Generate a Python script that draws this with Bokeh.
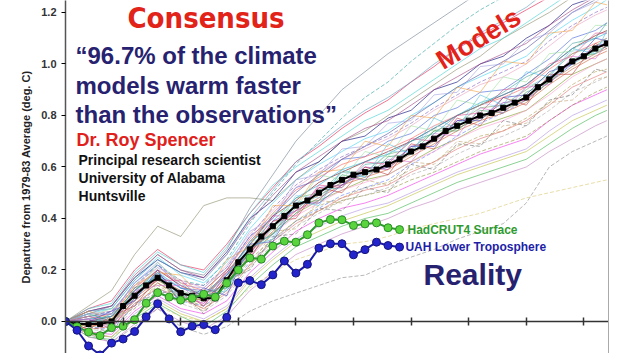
from bokeh.plotting import figure
from bokeh.models import Range1d, LinearAxis, FixedTicker, Label, NumeralTickFormatter
from bokeh.embed import file_html
from bokeh.resources import INLINE

# ---------------- data ----------------
years = list(range(1981, 2029))
obs_years = list(range(1981, 2011))
model_years = list(range(1981, 2028, 2)) + [2028]
x_ticks = list(range(1981, 2029, 5))
y_ticks = [0.0, 0.2, 0.4, 0.6, 0.8, 1.0, 1.2]

model_mean = [0.00, -0.01, -0.01, -0.01, 0.00, 0.06, 0.10, 0.14, 0.17, 0.14,
              0.11, 0.10, 0.09, 0.09, 0.16, 0.23, 0.28, 0.33, 0.37, 0.41,
              0.45, 0.47, 0.50, 0.53, 0.55, 0.57, 0.58, 0.59, 0.61, 0.63,
              0.66, 0.68, 0.71, 0.74, 0.76, 0.78, 0.80, 0.81, 0.83, 0.85,
              0.87, 0.91, 0.94, 0.98, 1.01, 1.03, 1.06, 1.08]

hadcrut4 = [0.000, -0.020, -0.041, -0.055, -0.024, -0.018, 0.007, 0.071, 0.112, 0.095,
            0.083, 0.090, 0.106, 0.095, 0.149, 0.200, 0.247, 0.242, 0.293, 0.312,
            0.308, 0.337, 0.383, 0.396, 0.395, 0.373, 0.379, 0.383, 0.364, 0.357]

uah = [0.000, -0.034, -0.095, -0.130, -0.084, -0.068, -0.039, 0.018, 0.069, 0.010,
       -0.040, -0.018, -0.012, -0.032, 0.016, 0.150, 0.159, 0.143, 0.181, 0.235,
       0.188, 0.222, 0.285, 0.302, 0.302, 0.259, 0.279, 0.308, 0.295, 0.289]

m01 = [0, .05, .08, .20, .28, .22, .20, .30, .42, .52, .62, .68, .75, .81, .86, .93, .99, 1.06, 1.11, 1.16, 1.21, 1.26, 1.31, 1.36, 1.38]
m02 = [0, -.06, -.07, .01, .07, .02, -.02, .04, .14, .22, .29, .33, .37, .40, .42, .46, .50, .54, .57, .60, .63, .69, .75, .80, .82]
m03 = [0, .02, .03, .15, .22, .13, .12, .20, .33, .40, .52, .55, .63, .64, .70, .73, .80, .83, .89, .90, .96, 1.02, 1.10, 1.13, 1.16]
m04 = [0, -.03, -.02, .06, .14, .09, .05, .12, .22, .32, .39, .45, .48, .52, .54, .59, .62, .68, .72, .74, .79, .85, .92, .97, .98]
m05 = [0, .01, -.03, .09, .19, .10, .07, .18, .26, .39, .43, .52, .53, .60, .59, .68, .70, .78, .79, .85, .86, .95, 1.00, 1.07, 1.08]
m06 = [0, .03, .05, .16, .25, .18, .15, .23, .36, .46, .55, .61, .66, .71, .74, .80, .85, .91, .95, .99, 1.03, 1.11, 1.17, 1.22, 1.25]
m07 = [0, -.04, -.05, .04, .10, .05, .03, .08, .19, .27, .35, .40, .44, .46, .49, .53, .57, .61, .65, .68, .71, .78, .84, .88, .90]
m08 = [0, .06, .12, .26, .37, .33, .45, .48, .48, .47, .55, .62, .70, .74, .80, .86, .92, .98, 1.03, 1.10, 1.15, 1.20, 1.26, 1.30, 1.32]
m09 = [0, .02, .04, .14, .22, .16, .14, .24, .38, .50, .61, .70, .79, .87, .93, 1.01, 1.08, 1.15, 1.21, 1.26, 1.31, 1.37, 1.42, 1.46, 1.48]
m10 = [0, -.05, -.08, -.02, .05, -.02, -.05, -.02, .04, .08, .11, .14, .17, .18, .22, .25, .28, .32, .35, .38, .46, .60, .66, .70, .72]
m11 = [0, -.04, -.06, .00, .06, .02, .00, .05, .13, .19, .24, .27, .30, .31, .33, .36, .38, .40, .42, .45, .48, .50, .52, .54, .55]
m12 = [0, .00, .02, .12, .20, .14, .10, .19, .30, .41, .47, .54, .58, .62, .66, .70, .75, .80, .84, .88, .92, .99, 1.06, 1.11, 1.13]
m13 = [0, -.02, -.01, .08, .15, .10, .08, .14, .26, .34, .42, .47, .51, .55, .57, .62, .67, .71, .76, .79, .82, .89, .96, 1.00, 1.02]
m14 = [0, .04, .06, .17, .24, .19, .17, .27, .40, .47, .58, .62, .70, .72, .79, .82, .90, .93, 1.00, 1.03, 1.10, 1.15, 1.23, 1.26, 1.29]
m15 = [0, -.03, -.04, .05, .12, .07, .04, .10, .21, .30, .37, .42, .47, .49, .52, .57, .60, .65, .69, .72, .76, .82, .89, .93, .95]
m16 = [0, .03, .04, .14, .21, .16, .13, .22, .34, .43, .52, .58, .63, .67, .71, .76, .82, .87, .92, .95, 1.00, 1.07, 1.14, 1.19, 1.21]
m17 = [0, -.05, -.06, .03, .09, .04, .01, .06, .17, .25, .32, .37, .41, .44, .46, .50, .54, .58, .61, .64, .67, .74, .80, .84, .86]
m18 = [0, -.01, .01, .10, .16, .12, .09, .15, .27, .36, .44, .49, .54, .57, .61, .66, .71, .75, .79, .83, .87, .93, 1.00, 1.05, 1.07]
m19 = [0, .01, .03, .13, .20, .15, .12, .20, .32, .42, .51, .56, .61, .64, .67, .71, .76, .80, .84, .87, .91, .98, 1.04, 1.08, 1.10]
m20 = [0, -.02, -.03, .06, .13, .08, .06, .12, .23, .31, .39, .44, .49, .52, .55, .61, .66, .72, .77, .81, .86, .93, 1.00, 1.06, 1.09]
m21 = [0, .05, .07, .19, .27, .22, .19, .29, .42, .53, .60, .66, .72, .78, .82, .88, .94, 1.00, 1.06, 1.10, 1.16, 1.22, 1.28, 1.32, 1.34]
m22 = [0, -.06, -.08, -.01, .05, .00, -.03, .02, .12, .19, .26, .30, .34, .37, .40, .44, .47, .51, .54, .57, .60, .66, .71, .76, .78]
m23 = [0, .02, -.01, .12, .18, .09, .10, .17, .31, .37, .48, .50, .58, .58, .65, .67, .74, .77, .83, .84, .90, .96, 1.04, 1.07, 1.10]
m24 = [0, -.02, .00, .09, .16, .11, .08, .16, .27, .35, .43, .48, .53, .56, .59, .64, .69, .74, .78, .81, .85, .92, .98, 1.03, 1.05]
m25 = [0, .00, .02, .11, .18, .13, .10, .18, .31, .41, .50, .57, .63, .68, .73, .79, .85, .91, .96, 1.01, 1.06, 1.13, 1.20, 1.25, 1.27]
m26 = [0, .00, -.01, .08, .15, .09, .06, .13, .24, .32, .39, .43, .47, .49, .51, .55, .58, .62, .66, .69, .72, .78, .84, .89, .91]
m27 = [0, .03, .06, .17, .26, .20, .18, .28, .44, .57, .70, .80, .90, .97, 1.04, 1.10, 1.16, 1.22, 1.28, 1.33, 1.38, 1.43, 1.48, 1.52, 1.54]
m28 = [0, -.01, -.02, .08, .15, .10, .07, .14, .25, .34, .41, .46, .51, .54, .57, .62, .66, .71, .75, .78, .82, .88, .95, 1.00, 1.02]
m29 = [0, .01, .02, .12, .19, .13, .11, .18, .30, .39, .48, .53, .59, .62, .65, .70, .75, .80, .85, .88, .92, .99, 1.06, 1.10, 1.12]
m30 = [0, .04, .06, .18, .26, .20, .17, .26, .39, .49, .58, .64, .70, .75, .78, .84, .90, .95, 1.00, 1.04, 1.08, 1.15, 1.21, 1.26, 1.28]
m31 = [0, -.05, -.06, .02, .08, .03, .00, .05, .16, .24, .31, .35, .39, .42, .45, .49, .53, .57, .60, .63, .66, .72, .78, .82, .84]
m32 = [0, .03, .00, .13, .17, .08, .11, .14, .29, .34, .46, .47, .57, .55, .64, .65, .74, .74, .82, .81, .89, .93, 1.02, 1.04, 1.07]
m33 = [0, .02, .04, .13, .22, .15, .14, .21, .33, .44, .53, .59, .64, .68, .72, .77, .83, .88, .93, .97, 1.01, 1.09, 1.15, 1.20, 1.22]
m34 = [0, -.03, -.02, .07, .13, .09, .05, .11, .22, .31, .38, .43, .48, .51, .53, .58, .62, .67, .71, .74, .78, .84, .91, .95, .97]
m35 = [0, .04, .05, .16, .24, .19, .16, .26, .40, .51, .62, .69, .76, .82, .87, .93, 1.00, 1.06, 1.12, 1.17, 1.22, 1.29, 1.35, 1.39, 1.41]
m36 = [0, .00, -.01, .10, .17, .11, .09, .15, .27, .37, .45, .49, .54, .57, .60, .65, .70, .75, .79, .82, .86, .93, .99, 1.04, 1.06]
m37 = [0, .03, -.02, .11, .21, .09, .12, .13, .31, .33, .49, .48, .58, .56, .66, .66, .76, .75, .85, .83, .91, .95, 1.05, 1.06, 1.10]
m38 = [0, -.03, .02, .06, .17, .12, .06, .17, .24, .39, .40, .52, .50, .60, .57, .69, .67, .79, .76, .87, .84, .96, .96, 1.08, 1.06]
m39 = [0, .02, .05, .09, .23, .15, .08, .20, .27, .42, .44, .57, .55, .66, .64, .76, .74, .86, .84, .95, .93, 1.04, 1.05, 1.15, 1.15]
m40 = [0, -.02, -.04, .07, .11, .12, .03, .16, .20, .33, .34, .44, .43, .52, .50, .61, .59, .69, .68, .78, .76, .86, .88, .98, .97]
m41 = [0, .04, .01, .14, .19, .18, .09, .24, .29, .45, .45, .58, .59, .70, .68, .80, .79, .91, .89, 1.01, 1.00, 1.12, 1.13, 1.24, 1.23]
m42 = [0, .00, .04, .08, .20, .07, .13, .10, .30, .31, .46, .46, .53, .58, .60, .68, .68, .78, .78, .87, .88, .97, 1.00, 1.10, 1.09]
m43 = [0, .01, -.02, .12, .14, .14, .06, .19, .25, .37, .43, .47, .56, .55, .63, .62, .73, .72, .83, .81, .91, .92, 1.03, 1.02, 1.08]
m44 = [0, -.01, .03, .10, .18, .10, .11, .13, .28, .34, .42, .51, .52, .61, .62, .70, .73, .80, .84, .89, .95, .99, 1.08, 1.10, 1.16]
m45 = [0, .03, .03, .15, .23, .14, .13, .21, .35, .40, .55, .57, .67, .68, .77, .78, .88, .89, .99, 1.00, 1.09, 1.12, 1.20, 1.24, 1.27]
m46 = [0, -.02, .01, .05, .15, .09, .04, .15, .21, .35, .36, .47, .46, .55, .53, .62, .61, .70, .69, .76, .77, .85, .86, .94, .95]
m47 = [0, .02, .00, .11, .16, .16, .08, .20, .26, .41, .41, .53, .52, .62, .61, .71, .70, .80, .81, .90, .91, 1.00, 1.03, 1.12, 1.12]
m48 = [0, -.01, .02, .09, .19, .08, .10, .12, .29, .32, .47, .45, .59, .56, .69, .65, .79, .75, .88, .84, .97, .95, 1.06, 1.04, 1.13]

models = [m01, m02, m03, m04, m05, m06, m07, m08, m09, m10, m11, m12,
          m13, m14, m15, m16, m17, m18, m19, m20, m21, m22, m23, m24,
          m25, m26, m27, m28, m29, m30, m31, m32, m33, m34, m35, m36,
          m37, m38, m39, m40, m41, m42, m43, m44, m45, m46, m47, m48]

# ---------------- styles ----------------
model_colors = ["#e6194b", "#3cb44b", "#4363d8", "#b0a050", "#911eb4", "#42d4f4",
                "#f032e6", "#8a8a6a", "#2ca0a0", "#888888", "#d8c870", "#800000",
                "#7a9a20", "#000075", "#a9a9a9", "#e8a0c0", "#b090e0", "#60c890",
                "#ff6060", "#6080ff", "#40d0d0", "#c080c0", "#70b070", "#d06030",
                "#5050a0", "#909040", "#708090", "#ff9ad0", "#20b0e0", "#a04080",
                "#c0c040", "#30a060", "#8060c0", "#e07070", "#60a0c0", "#b07050",
                "#9ad0f0", "#c04040", "#a0e0a0", "#707070", "#f0a040", "#4040c0",
                "#d070d0", "#40a0a0", "#a0a0e0", "#c0a070", "#e05090", "#50c0e0"]
dashed = {3, 8, 9, 10, 14, 19, 25, 32, 39, 45}

p = figure(width=628, height=353, output_backend="svg", toolbar_location=None,
           x_range=Range1d(1981, 2028.14), y_range=Range1d(-0.1243, 1.2466),
           min_border_left=65, min_border_right=20, min_border_top=0, min_border_bottom=0)
p.background_fill_color = "white"
p.border_fill_color = "white"
p.outline_line_color = None
p.xgrid.visible = False
p.ygrid.visible = False

# x axis sits at y = 0
p.xaxis.fixed_location = 0
p.xaxis.ticker = FixedTicker(ticks=x_ticks)
p.xaxis.major_label_text_color = None
p.xaxis.major_label_text_font_size = "1px"
p.xaxis.major_tick_in = 4
p.xaxis.major_tick_out = 4
p.xaxis.minor_tick_line_color = None
p.xaxis.axis_line_width = 1.5
p.xaxis.axis_line_color = "#333333"
p.xaxis.major_tick_line_color = "#333333"
p.xaxis.major_tick_line_width = 1.5

p.yaxis.ticker = FixedTicker(ticks=y_ticks)
p.yaxis.formatter = NumeralTickFormatter(format="0.0")
p.yaxis.major_label_text_font = "Liberation Sans"
p.yaxis.major_label_text_font_style = "bold"
p.yaxis.major_label_text_font_size = "11px"
p.yaxis.major_label_text_color = "#333333"
p.yaxis.major_tick_in = 0
p.yaxis.major_tick_out = 4
p.yaxis.minor_tick_line_color = None
p.yaxis.axis_line_width = 1.5
p.yaxis.axis_line_color = "#555555"
p.yaxis.axis_label = "Departure from 1979-83 Average (deg. C)"
p.yaxis.axis_label_text_font = "Liberation Sans"
p.yaxis.axis_label_text_font_style = "bold"
p.yaxis.axis_label_text_font_size = "11px"
p.yaxis.axis_label_text_color = "#222222"
p.yaxis.axis_label_standoff = 6

right_axis = LinearAxis(ticker=FixedTicker(ticks=[]), major_tick_in=0, major_tick_out=0,
                        minor_tick_in=0, minor_tick_out=0, major_label_text_color=None,
                        axis_line_color="#aaaaaa", axis_line_width=1)
p.add_layout(right_axis, "right")

for k, series in enumerate(models):
    p.line(model_years, series, line_color=model_colors[k % len(model_colors)],
           line_width=0.8, line_alpha=0.75,
           line_dash="4 2" if k in dashed else "solid")

p.line(years, model_mean, line_color="black", line_width=2)
p.scatter(years, model_mean, marker="square", size=5, color="black")

p.line(obs_years, hadcrut4, line_color="#2f9a2f", line_width=2)
p.scatter(obs_years, hadcrut4, marker="circle", size=8, fill_color="#5ad43c",
          line_color="#2a8a2a", line_width=1)

p.line(obs_years, uah, line_color="#1b1ba8", line_width=2)
p.scatter(obs_years, uah, marker="circle", size=8, fill_color="#2424cc",
          line_color="#15157a", line_width=1)

# ---------------- annotations ----------------
def add_label(x, y, text, font, size, color, align="left", angle=0.0):
    p.add_layout(Label(x=x, y=y, text=text, text_font=font, text_font_style="bold",
                       text_font_size=size, text_color=color, text_align=align,
                       text_baseline="middle", angle=angle))

add_label(1993.2, 1.18, "Consensus", "'DejaVu Sans Condensed', Roboto, sans-serif", "29px",
          "#e2231a", align="center")
navy = "#27226f"
add_label(1981.87, 1.033, "\u201c96.7% of the climate", "Liberation Sans", "24px", navy)
add_label(1981.87, 0.9165, "models warm faster", "Liberation Sans", "24px", navy)
add_label(1981.87, 0.804, "than the observations\u201d", "Liberation Sans", "24px", navy)
add_label(1981.95, 0.703, "Dr. Roy Spencer", "Liberation Sans", "18px", "#e0201b")
add_label(1982.13, 0.629, "Principal research scientist", "Liberation Sans", "14px", "#111111")
add_label(1982.13, 0.559, "University of Alabama", "Liberation Sans", "14px", "#111111")
add_label(1982.13, 0.489, "Huntsville", "Liberation Sans", "14px", "#111111")
add_label(2016.85, 1.099, "Models", "Liberation Sans", "27px", "#e2231a", align="center", angle=0.54)
add_label(2010.69, 0.357, "HadCRUT4 Surface", "Liberation Sans", "12px", "#2f9a2f")
add_label(2010.51, 0.291, "UAH Lower Troposphere", "Liberation Sans", "12px", "#1e1ea8")
add_label(2012.08, 0.184, "Reality", "Liberation Sans", "30px", navy)

open("out.html", "w").write(file_html(p, INLINE))
